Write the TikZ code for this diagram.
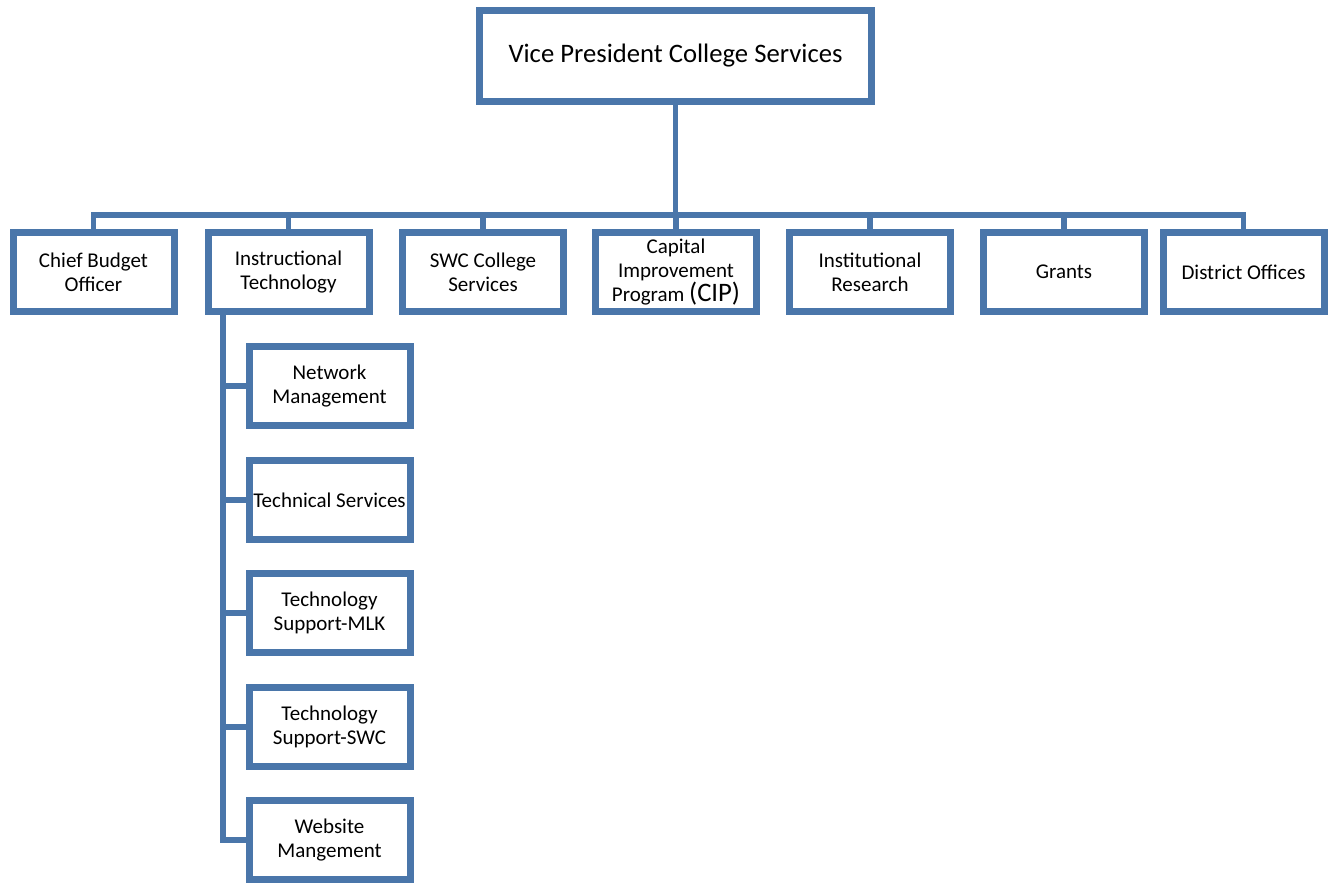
\documentclass[tikz,border=0pt]{standalone}
\usepackage{fontspec}
\setmainfont{Carlito}
\usetikzlibrary{positioning, shadows}
\definecolor{orgblue}{HTML}{4A76AA}
\tikzset{
  box/.style={draw=orgblue, line width=5.25pt, fill=white, inner sep=0pt,
    minimum width=120.75pt, minimum height=59.25pt, align=center,
    font=\fontsize{15.75}{18}\selectfont,
    drop shadow={shadow xshift=1.2pt, shadow yshift=-1.8pt, opacity=0.3}},
  topbox/.style={box, minimum width=294pt, minimum height=68.25pt,
    font=\fontsize{20}{24}\selectfont},
  link/.style={draw=orgblue, line width=4pt}
}
\begin{document}
\begin{tikzpicture}[x=0.75pt, y=-0.75pt]
            \useasboundingbox (0,0) rectangle (1335,884);
            \node[topbox] (vp) at (675.5, 56) {Vice President College Services};

            \node[box] (cbo)  at (93.5, 272)  {Chief Budget\\Officer};
            \node[box] (it)   at (288.5, 272) {Instructional\\Technology};
            \node[box] (swc)  at (483, 272)   {SWC College\\Services};
            \node[box] (cip)  at (676, 272)   {Capital\\Improvement\\Program {\fontsize{20}{20}\selectfont(CIP)}};
            \node[box] (ir)   at (870, 272)   {Institutional\\Research};
            \node[box] (gr)   at (1064, 272)  {Grants};
            \node[box] (dist) at (1243.5, 272) {District Offices};

            \node[box] (net)  at (329.5, 386) {Network\\Management};
            \node[box] (tech) at (329.5, 500) {Technical Services};
            \node[box] (mlk)  at (329.5, 613) {Technology\\Support-MLK};
            \node[box] (tsw)  at (329.5, 727) {Technology\\Support-SWC};
            \node[box] (web)  at (329.5, 840) {Website\\Mangement};

            % bus under the vice president
            \coordinate (bus) at (675.5, 215);
            \draw[link] (vp.south) -- (bus);
            \foreach \n in {cbo, it, swc, cip, ir, gr, dist}
                \draw[link] (\n.north) |- (bus);

            % spine under instructional technology
            \coordinate (spine) at (223, 312);
            \foreach \n in {net, tech, mlk, tsw, web}
                \draw[link] (spine) |- (\n.west);
\end{tikzpicture}
\end{document}
